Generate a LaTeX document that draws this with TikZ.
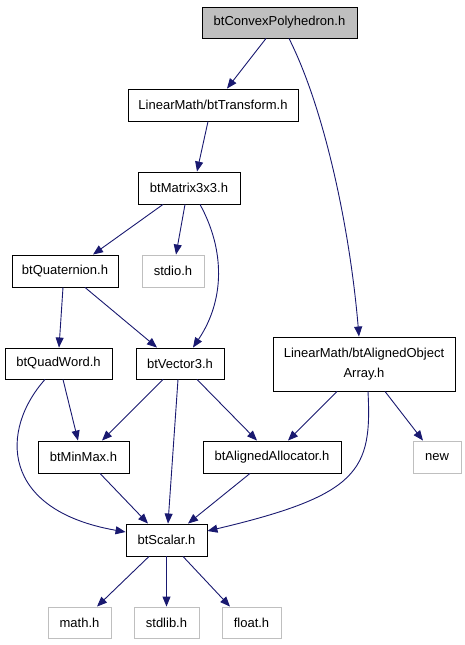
\documentclass[tikz,border=0pt]{standalone}
\usepackage{fontspec}
\setmainfont{Liberation Sans}
\usetikzlibrary{arrows.meta,calc}
\definecolor{edgeblue}{HTML}{191970}
\definecolor{lgray}{HTML}{BFBFBF}
\begin{document}
\begin{tikzpicture}[x=1pt,y=-1pt,
  box/.style={draw=black,line width=0.9pt,inner sep=0pt,minimum height=32pt,font=\fontsize{13}{20}\selectfont,align=center},
  ext/.style={box,draw=lgray},
  top/.style={box,fill=lgray},
  edge/.style={draw=edgeblue,line width=0.9pt,-{Triangle[length=10pt,width=8pt]}}]
\useasboundingbox (0,0) rectangle (465,645);
\node[top,minimum width=155pt,minimum height=31pt] (cp) at (279.5,22.5) {btConvexPolyhedron.h};
\node[box,minimum width=170pt] (tr) at (213,105) {LinearMath/btTransform.h};
\node[box,minimum width=102pt] (mx) at (189,188) {btMatrix3x3.h};
\node[box,minimum width=106pt] (qt) at (65,271) {btQuaternion.h};
\node[ext,minimum width=62pt] (st) at (173,271) {stdio.h};
\node[box,minimum width=107pt,minimum height=31pt] (qw) at (58.5,363.5) {btQuadWord.h};
\node[box,minimum width=88pt,minimum height=31pt] (v3) at (180,363.5) {btVector3.h};
\node[box,minimum width=182pt,minimum height=54pt] (ao) at (364,364) {LinearMath/btAlignedObject\\Array.h};
\node[box,minimum width=91pt] (mm) at (83.5,457) {btMinMax.h};
\node[box,minimum width=138pt] (aa) at (272,457) {btAlignedAllocator.h};
\node[ext,minimum width=48pt] (nw) at (437,457) {new};
\node[box,minimum width=81pt] (sc) at (166.5,540) {btScalar.h};
\node[ext,minimum width=63pt,minimum height=31pt] (ma) at (79.5,622.5) {math.h};
\node[ext,minimum width=65pt,minimum height=31pt] (sl) at (166.5,622.5) {stdlib.h};
\node[ext,minimum width=59pt,minimum height=31pt] (fl) at (251.5,622.5) {float.h};

\draw[edge] ($(cp.south)+(-13.5,0)$) -- ($(tr.north)+(14,0)$);
\draw[edge] ($(cp.south)+(9.5,0)$) .. controls (325,110) and (350,230) .. ($(ao.north)+(-5,0)$);
\draw[edge] ($(tr.south)+(-5,0)$) -- ($(mx.north)+(8,0)$);
\draw[edge] ($(mx.south)+(-26,0)$) -- ($(qt.north)+(28,0)$);
\draw[edge] ($(mx.south)+(-4,0)$) -- ($(st.north)+(3,0)$);
\draw[edge] ($(mx.south)+(11,0)$) .. controls (225,250) and (225,300) .. ($(v3.north)+(13,0)$);
\draw[edge] ($(qt.south)+(-2,0)$) -- ($(qw.north)+(0.5,0)$);
\draw[edge] ($(qt.south)+(20,0)$) -- ($(v3.north)+(-23,0)$);
\draw[edge] ($(qw.south)+(4.5,0)$) -- ($(mm.north)+(-5.5,0)$);
\draw[edge] ($(qw.south)+(-13.5,0)$) .. controls (0,430) and (0,510) .. ($(sc.west)+(0,-8)$);
\draw[edge] ($(v3.south)+(-17,0)$) -- ($(mm.north)+(18.5,0)$);
\draw[edge] ($(v3.south)+(-2,0)$) -- ($(sc.north)+(1.5,0)$);
\draw[edge] ($(v3.south)+(17,0)$) -- ($(aa.north)+(-15,0)$);
\draw[edge] ($(ao.south)+(-27,0)$) -- ($(aa.north)+(16,0)$);
\draw[edge] ($(ao.south)+(4,0)$) .. controls (372,470) and (360,495) .. ($(sc.east)+(0,-9)$);
\draw[edge] ($(ao.south)+(21,0)$) -- ($(nw.north)+(-14,0)$);
\draw[edge] ($(mm.south)+(16.5,0)$) -- ($(sc.north)+(-18.5,0)$);
\draw[edge] ($(aa.south)+(-22,0)$) -- ($(sc.north)+(21.5,0)$);
\draw[edge] ($(sc.south)+(-17.5,0)$) -- ($(ma.north)+(17.5,0)$);
\draw[edge] (sc.south) -- (sl.north);
\draw[edge] ($(sc.south)+(16.5,0)$) -- ($(fl.north)+(-21.5,0)$);
\end{tikzpicture}
\end{document}
